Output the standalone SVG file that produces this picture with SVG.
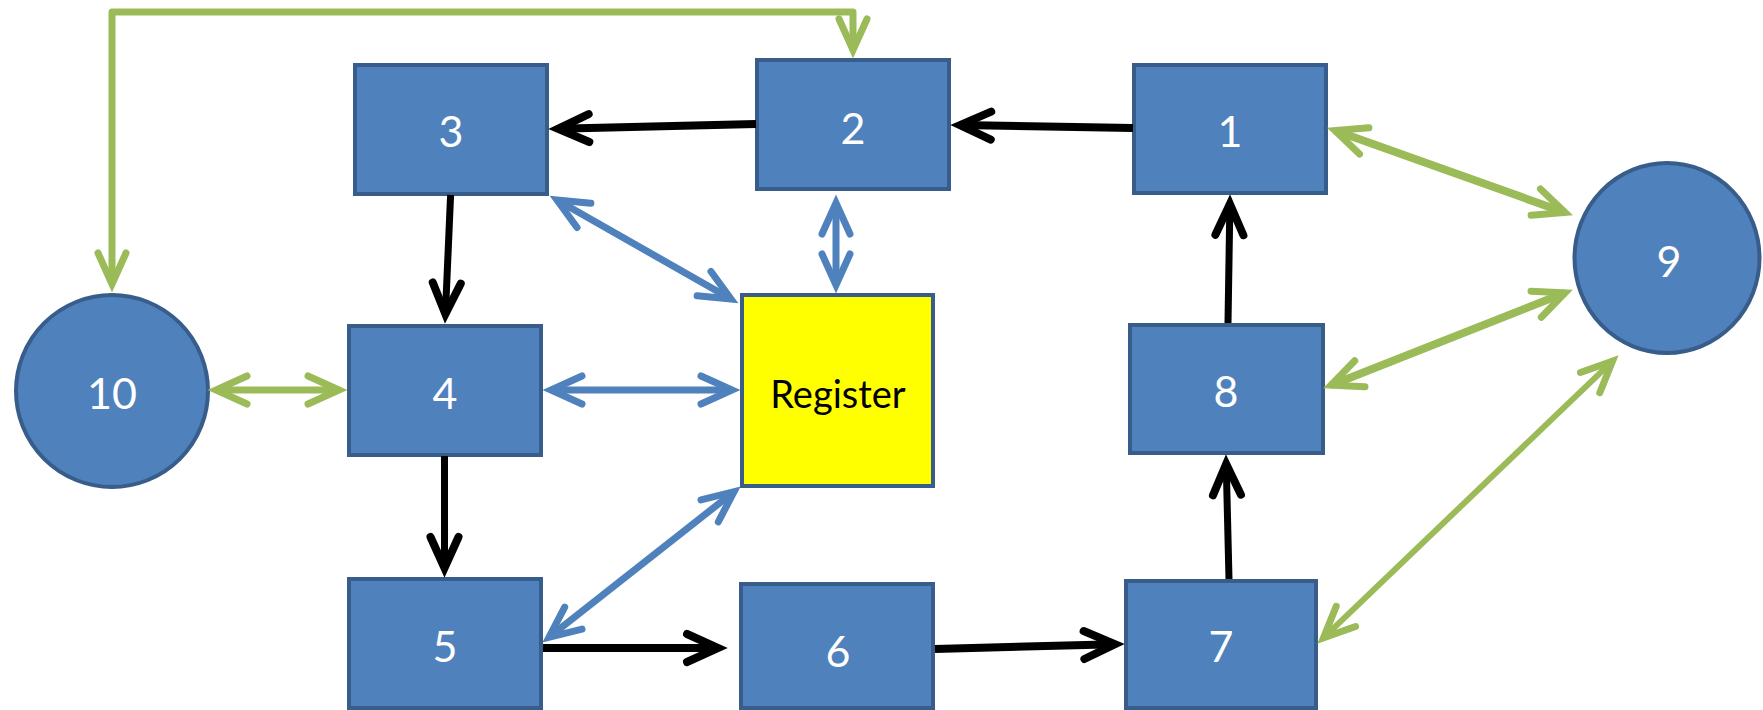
<svg xmlns="http://www.w3.org/2000/svg" width="1763" height="710" viewBox="0 0 1763 710">
<style>
.box{fill:#4F81BD;stroke:#385D8A;stroke-width:4}
.reg{fill:#FFFF00;stroke:#385D8A;stroke-width:4}
.lbl{font-family:Lato,"Open Sans","Liberation Sans",sans-serif;font-size:43px;fill:#FFFFFF;text-anchor:middle;dominant-baseline:central}
.rlbl{font-family:Lato,"Open Sans","Liberation Sans",sans-serif;font-size:38px;fill:#000000;text-anchor:middle;dominant-baseline:central}
.blk{fill:none;stroke:#000;stroke-width:8;marker-end:url(#mb)}
.grn{fill:none;stroke:#9BBB59;stroke-width:7;stroke-linejoin:round;marker-start:url(#mg);marker-end:url(#mg)}
.blu{fill:none;stroke:#4F81BD;stroke-width:7;marker-start:url(#mu);marker-end:url(#mu)}
</style>
<defs>
<marker id="mb" markerUnits="userSpaceOnUse" orient="auto-start-reverse" overflow="visible" markerWidth="1" markerHeight="1" refX="0" refY="0">
<path d="M-31,-14 L0,0 L-31,14" fill="none" stroke="#000" stroke-width="8" stroke-linecap="round" stroke-linejoin="miter"/>
</marker>
<marker id="mg" markerUnits="userSpaceOnUse" orient="auto-start-reverse" overflow="visible" markerWidth="1" markerHeight="1" refX="0" refY="0">
<path d="M-31,-14 L0,0 L-31,14" fill="none" stroke="#9BBB59" stroke-width="7" stroke-linecap="round" stroke-linejoin="miter"/>
</marker>
<marker id="mu" markerUnits="userSpaceOnUse" orient="auto-start-reverse" overflow="visible" markerWidth="1" markerHeight="1" refX="0" refY="0">
<path d="M-31,-14 L0,0 L-31,14" fill="none" stroke="#4F81BD" stroke-width="7" stroke-linecap="round" stroke-linejoin="miter"/>
</marker>
</defs>
<rect width="1763" height="710" fill="#FFFFFF"/>

<g id="node1"><rect class="box" x="1134" y="65" width="192" height="128"/><text class="lbl" x="1230" y="130">1</text></g>
<g id="node2"><rect class="box" x="757" y="60" width="192" height="129"/><text class="lbl" x="853" y="127">2</text></g>
<g id="node3"><rect class="box" x="355" y="65" width="192" height="129"/><text class="lbl" x="451" y="130">3</text></g>
<g id="node4"><rect class="box" x="349" y="326" width="192" height="129"/><text class="lbl" x="445" y="392">4</text></g>
<g id="node5"><rect class="box" x="349" y="579" width="192" height="129"/><text class="lbl" x="445" y="645">5</text></g>
<g id="node6"><rect class="box" x="741" y="584" width="192" height="124"/><text class="lbl" x="838" y="650">6</text></g>
<g id="node7"><rect class="box" x="1126" y="581" width="190" height="127"/><text class="lbl" x="1221" y="645">7</text></g>
<g id="node8"><rect class="box" x="1130" y="325" width="193" height="128"/><text class="lbl" x="1226" y="390">8</text></g>
<g id="node9"><ellipse class="box" cx="1667" cy="258" rx="92.5" ry="95"/><text class="lbl" x="1669" y="260">9</text></g>
<g id="node10"><circle class="box" cx="112" cy="391" r="96"/><text class="lbl" x="112" y="392">10</text></g>
<g id="register"><rect class="reg" x="742" y="295" width="191" height="191"/><text class="rlbl" x="838" y="393">Register</text></g>

<g id="connectors">
<path class="blk" d="M1133,128 L960,125.1"/>
<path class="blk" d="M756,124 L558,128.8"/>
<path class="blk" style="stroke-width:7" d="M450.6,195 L445.4,314"/>
<path class="blk" style="stroke-width:7" d="M444.5,456 L444.5,568"/>
<path class="blk" d="M543,648 L718,648"/>
<path class="blk" d="M935,649 L1115,644.2"/>
<path class="blk" style="stroke-width:7" d="M1229,579 L1226.2,464"/>
<path class="blk" style="stroke-width:7" d="M1228,323 L1229.9,204"/>

<path class="grn" d="M112,284 L112,12 L853,12 L853,50"/>
<path class="grn" d="M216,390 L339,390"/>
<path class="grn" style="stroke-width:8" d="M1335,130.5 L1565,212.5"/>
<path class="grn" style="stroke-width:8" d="M1331,385.2 L1565,292.8"/>
<path class="grn" style="stroke-width:6" d="M1323.5,637.8 L1612.5,361.2"/>

<path class="blu" d="M557,200 L731,299"/>
<path class="blu" d="M836,203 L836,285"/>
<path class="blu" d="M551,390 L732,390"/>
<path class="blu" d="M549,637.3 L734,491.7"/>
</g>
</svg>
